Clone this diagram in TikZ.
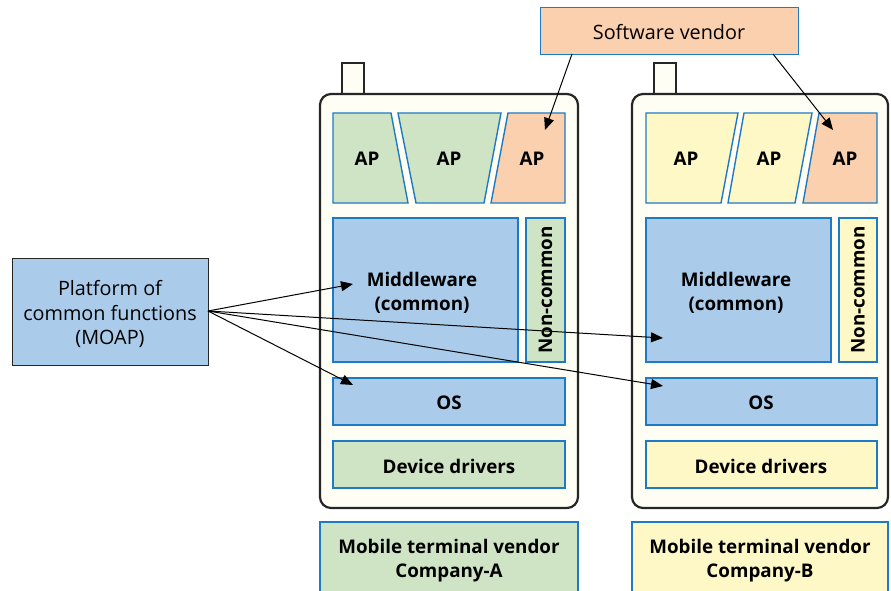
\documentclass[tikz,border=0pt]{standalone}
\usepackage{fontspec}
\setmainfont{Open Sans}
\usetikzlibrary{arrows.meta}
\definecolor{cgreen}{HTML}{CFE4C4}
\definecolor{cyellow}{HTML}{FEF8C6}
\definecolor{cpeach}{HTML}{FBD0AE}
\definecolor{cblue}{HTML}{AACCEA}
\definecolor{cbody}{HTML}{FFFEF4}
\definecolor{cedge}{HTML}{1F7AC6}
\definecolor{cdark}{HTML}{262626}
\tikzset{
  blk/.style={draw=cedge, line width=1.4pt},
  phone/.style={draw=cdark, line width=2.2pt, fill=cbody, rounded corners=11pt},
  ant/.style={draw=cdark, line width=2pt, fill=cbody},
  lbl/.style={font=\bfseries\fontsize{18.8}{24}\selectfont, align=center, inner sep=0pt},
  reg/.style={font=\fontsize{19.8}{24.5}\selectfont, align=center, inner sep=0pt},
  arr/.style={-{Triangle[length=12pt,width=10pt]}, line width=1pt, black},
}
\begin{document}
\begin{tikzpicture}[x=1pt,y=-1pt]
\useasboundingbox (0,0) rectangle (891,591);
% Software vendor
\node[blk, fill=cpeach, minimum width=258pt, minimum height=47pt, anchor=north west, inner sep=0pt] (sw) at (540,7) {};
\node[reg] (swt) at (669,32) {Software vendor};
% Platform
\node[draw=cdark, line width=1.2pt, fill=cblue, minimum width=196pt, minimum height=107pt, anchor=north west, inner sep=0pt] (pf) at (12,258) {};
\node[reg] (pft) at (110,314) {Platform of\\common functions\\(MOAP)};
% Phone A
\draw[ant] (342,94) rectangle (364,63);
\draw[phone] (320,94) rectangle (578,508);
\draw[blk, fill=cgreen] (333,113) -- (391,113) -- (408,203) -- (333,203) -- cycle;
\draw[blk, fill=cgreen] (398,113) -- (501,113) -- (484,203) -- (416,203) -- cycle;
\draw[blk, fill=cpeach] (508,113) -- (565,113) -- (565,203) -- (491,203) -- cycle;
\node[lbl] (apa1) at (367,159) {AP};
\node[lbl] (apa2) at (449,159) {AP};
\node[lbl] (apa3) at (532,159) {AP};
\draw[blk, fill=cblue] (333,218) rectangle (518,362);
\node[lbl] (mwa) at (422,293) {Middleware\\(common)};
\draw[blk, fill=cgreen] (526,218) rectangle (565,362);
\node[lbl, rotate=90] (nca) at (545.5,290) {Non-common};
\draw[blk, fill=cblue] (333,378) rectangle (565,425);
\node[lbl] (osa) at (449,403) {OS};
\draw[blk, fill=cgreen] (333,441) rectangle (565,488);
\node[lbl] (dda) at (449,466) {Device drivers};
\draw[blk, fill=cgreen] (320,522) rectangle (578,598);
\node[lbl] (ca) at (449,561) {Mobile terminal vendor\\Company-A};
% Phone B
\draw[ant] (654,94) rectangle (676,63);
\draw[phone] (632,94) rectangle (888,508);
\draw[blk, fill=cyellow] (646,113) -- (738,113) -- (721,203) -- (646,203) -- cycle;
\draw[blk, fill=cyellow] (744,113) -- (812,113) -- (795,203) -- (728,203) -- cycle;
\draw[blk, fill=cpeach] (819,113) -- (877,113) -- (877,203) -- (803,203) -- cycle;
\node[lbl] (apb1) at (686,159) {AP};
\node[lbl] (apb2) at (769,159) {AP};
\node[lbl] (apb3) at (845,159) {AP};
\draw[blk, fill=cblue] (646,218) rectangle (831,362);
\node[lbl] (mwb) at (736,293) {Middleware\\(common)};
\draw[blk, fill=cyellow] (839,218) rectangle (877,362);
\node[lbl, rotate=90] (ncb) at (858,290) {Non-common};
\draw[blk, fill=cblue] (646,378) rectangle (877,425);
\node[lbl] (osb) at (761,403) {OS};
\draw[blk, fill=cyellow] (646,441) rectangle (877,488);
\node[lbl] (ddb) at (761,466) {Device drivers};
\draw[blk, fill=cyellow] (632,522) rectangle (888,598);
\node[lbl] (cb) at (760,561) {Mobile terminal vendor\\Company-B};
% connector endpoints
\coordinate (pfo) at (208,311);
\coordinate (swl) at (572,54);
\coordinate (swr) at (773,54);
\coordinate (ea1) at (353,284);
\coordinate (ea2) at (353,385);
\coordinate (eb1) at (663,338);
\coordinate (eb2) at (663,386);
\coordinate (ep1) at (545,130);
\coordinate (ep2) at (833,130);
\draw[arr] (pfo) -- (ea1);
\draw[arr] (pfo) -- (ea2);
\draw[arr] (pfo) -- (eb1);
\draw[arr] (pfo) -- (eb2);
\draw[arr] (swl) -- (ep1);
\draw[arr] (swr) -- (ep2);
\end{tikzpicture}
\end{document}
